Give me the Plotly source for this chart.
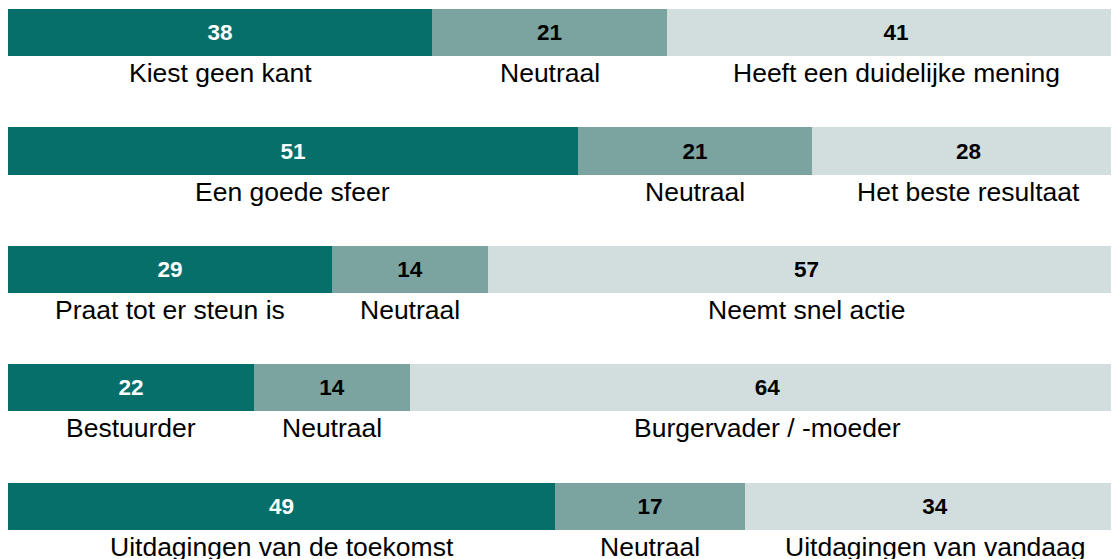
import plotly.graph_objects as go

rows = [0, 1, 2, 3, 4]
left_vals = [38, 51, 29, 22, 49]
neutral_vals = [21, 21, 14, 14, 17]
right_vals = [41, 28, 57, 64, 34]
left_labels = ["Kiest geen kant", "Een goede sfeer", "Praat tot er steun is", "Bestuurder", "Uitdagingen van de toekomst"]
neutral_labels = ["Neutraal", "Neutraal", "Neutraal", "Neutraal", "Neutraal"]
right_labels = ["Heeft een duidelijke mening", "Het beste resultaat", "Neemt snel actie", "Burgervader / -moeder", "Uitdagingen van vandaag"]

colors = ["#066F6A", "#7BA39F", "#D2DEDE"]
text_colors = ["white", "black", "black"]
series = [left_vals, neutral_vals, right_vals]
labels = [left_labels, neutral_labels, right_labels]

fig = go.Figure()
for vals, col, tc in zip(series, colors, text_colors):
    fig.add_trace(go.Bar(
        y=rows, x=vals, orientation="h", width=0.397,
        marker=dict(color=col, line=dict(width=0)),
        text=[str(v) for v in vals], textposition="inside",
        insidetextanchor="middle",
        textfont=dict(family="Liberation Sans, Arial", size=22.5, color=tc, weight="bold"),
        hoverinfo="skip", showlegend=False,
    ))

for i, r in enumerate(rows):
    start = 0
    for vals, labs in zip(series, labels):
        center = start + vals[i] / 2
        fig.add_annotation(
            x=center, y=r + 0.342, text=labs[i], showarrow=False,
            xanchor="center", yanchor="middle",
            font=dict(family="Liberation Sans, Arial", size=26.5, color="black"),
        )
        start += vals[i]

fig.update_layout(
    barmode="stack", width=1117, height=559,
    margin=dict(l=0, r=0, t=0, b=0),
    plot_bgcolor="white", paper_bgcolor="white",
    xaxis=dict(range=[0, 100], visible=False, fixedrange=True),
    yaxis=dict(range=[4.511, -0.207], visible=False, fixedrange=True),
    uniformtext=dict(mode=False),
    bargap=0,
)
fig.write_html("out.html")
